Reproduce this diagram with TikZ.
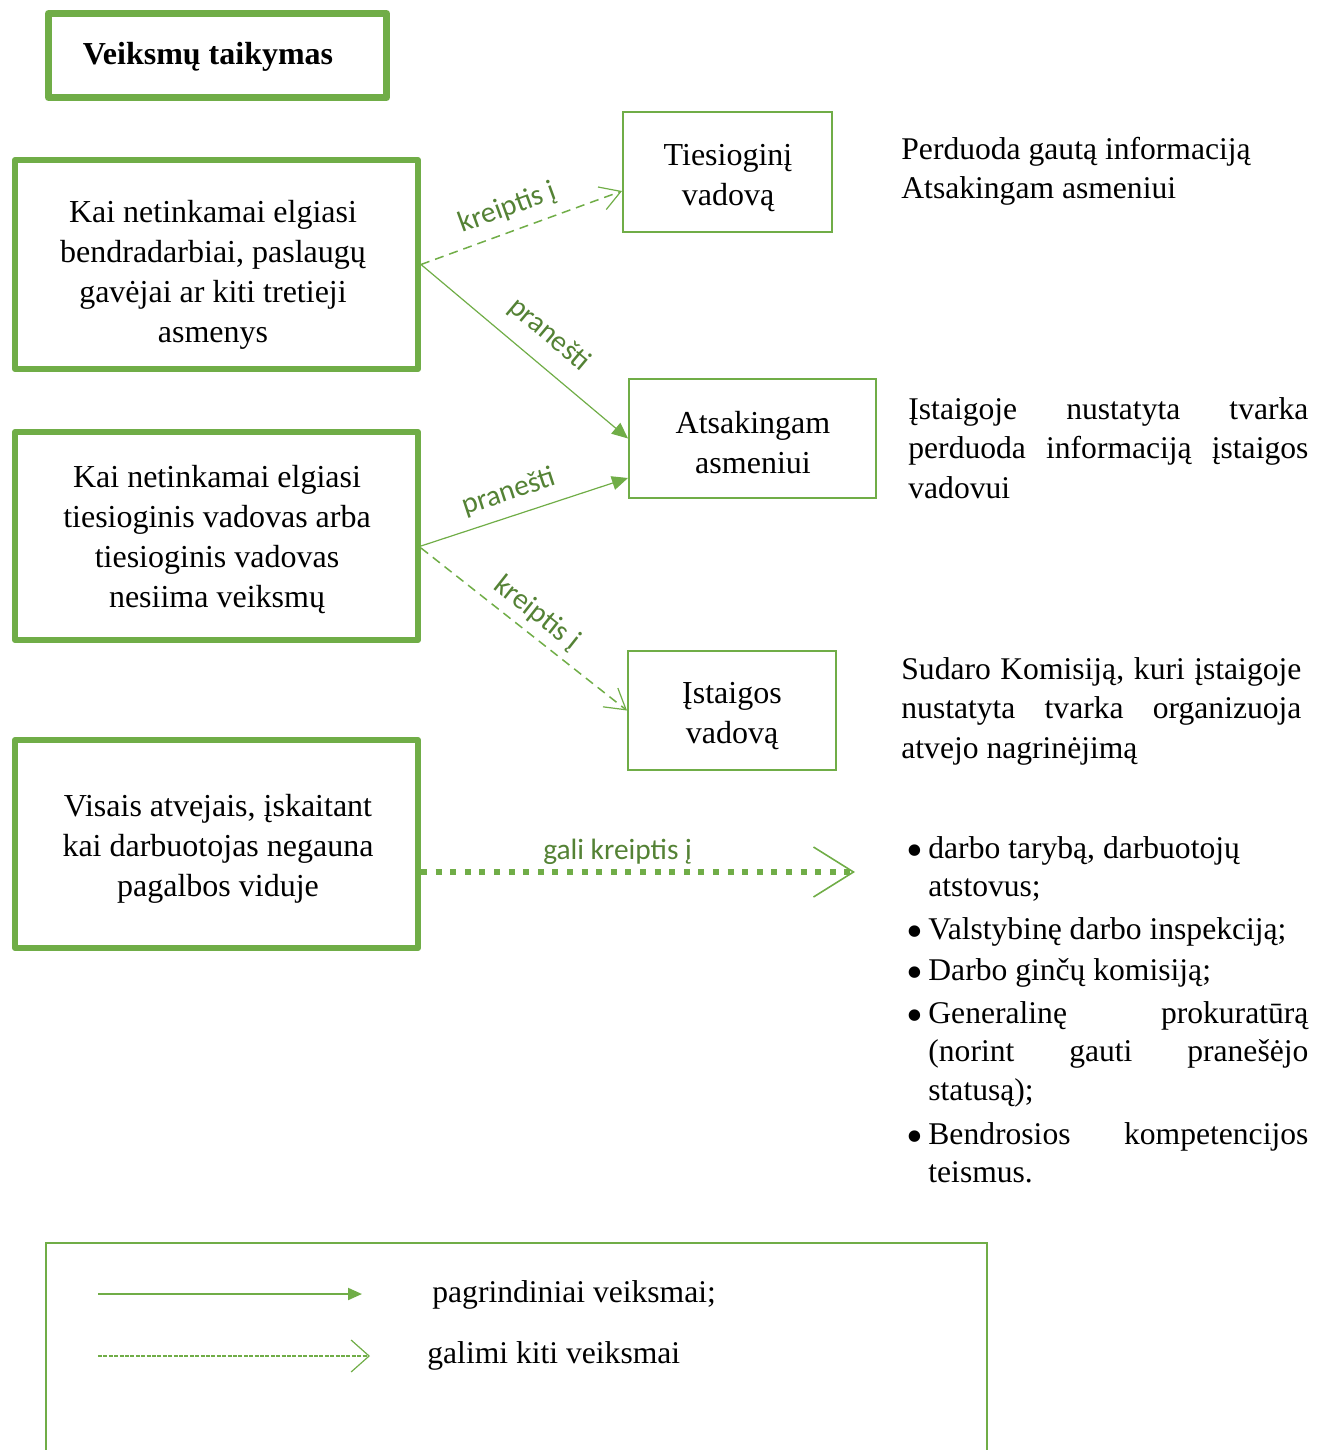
\documentclass[tikz,border=0pt]{standalone}
\usepackage{fontspec}
\setmainfont{Liberation Serif}
\newfontfamily\lblfont{Carlito}
\usetikzlibrary{arrows.meta}
\definecolor{gr}{HTML}{70AD47}
\definecolor{lg}{HTML}{548235}
\setlength\parindent{0pt}
\begin{document}
\begin{tikzpicture}[x=0.5pt,y=-0.5pt,
  bigbox/.style={draw=gr, line width=3pt, line join=round, inner sep=0pt},
  smallbox/.style={draw=gr, line width=1pt, inner sep=0pt},
  boxtext/.style={align=center, inner sep=0pt, font=\fontsize{16}{20}\selectfont},
  plain/.style={inner sep=0pt, anchor=base west, font=\fontsize{15.8}{19.75}\selectfont},
  lbl/.style={font=\lblfont\fontsize{14.7}{17}\selectfont, text=lg, sloped, inner sep=2pt},
  mainarrow/.style={draw=gr, line width=0.6pt, -{Triangle[length=8pt,width=7pt]}},
  otherarrow/.style={draw=gr, line width=0.75pt, dash pattern=on 4.5pt off 3pt,
     -{Straight Barb[length=10pt,width=12pt,line width=0.6pt]}},
  gkarrow/.style={draw=gr, line width=3pt, dash pattern=on 3pt off 4.3pt,
     -{Straight Barb[length=20pt,width=25pt,line width=0.8pt]}}
]
\useasboundingbox (0,0) rectangle (1327,1450);

% title
\node[bigbox, line width=3.5pt, minimum width=169pt, minimum height=42pt] (title) at (217.5,55.5) {};
\node[boxtext, font=\fontsize{16}{20}\selectfont\bfseries] (titlet) at (208,57) {Veiksmų taikymas};

% left boxes
\node[bigbox, minimum width=201.5pt, minimum height=104.5pt] (A) at (216.5,264.5) {};
\node[boxtext] (At) at (213,275)
  {Kai netinkamai elgiasi\\bendradarbiai, paslaugų\\gavėjai ar kiti tretieji\\asmenys};
\node[bigbox, minimum width=201.5pt, minimum height=104pt] (B) at (216.5,536) {};
\node[boxtext] (Bt) at (217,539.5)
  {Kai netinkamai elgiasi\\tiesioginis vadovas arba\\tiesioginis vadovas\\nesiima veiksmų};
\node[bigbox, minimum width=201.5pt, minimum height=104pt] (C) at (216.5,844) {};
\node[boxtext] (Ct) at (218,848.5)
  {Visais atvejais, įskaitant\\kai darbuotojas negauna\\pagalbos viduje};

% middle boxes
\node[smallbox, minimum width=104.5pt, minimum height=60pt] (T) at (727.5,172) {};
\node[boxtext] (Tt) at (728,178) {Tiesioginį\\vadovą};
\node[smallbox, minimum width=123.5pt, minimum height=59.5pt] (S) at (752.5,438.5) {};
\node[boxtext] (St) at (753,443) {Atsakingam\\asmeniui};
\node[smallbox, minimum width=104pt, minimum height=59.5pt] (I) at (732,710.5) {};
\node[boxtext] (It) at (732,716) {Įstaigos\\vadovą};

% right texts
\node[plain] (rt1) at (901,159) {\parbox[t]{200pt}{Perduoda gautą informaciją\\Atsakingam asmeniui}};
\node[plain] (rt2) at (908,419)
  {\parbox[t]{200pt}{Įstaigoje nustatyta tvarka\linebreak perduoda informaciją įstaigos\linebreak vadovui}};
\node[plain] (rt3) at (901,679)
  {\parbox[t]{200pt}{Sudaro Komisiją, kuri įstaigoje\linebreak nustatyta tvarka organizuoja\linebreak atvejo nagrinėjimą}};

% bullet list
\tikzset{item/.style={plain, font=\fontsize{15.8}{19.25}\selectfont},
         dot/.style={inner sep=0pt, anchor=base, font=\fontsize{24}{24}\selectfont}}
\foreach \yy/\nm in {866/d1,947/d2,988/d3,1031/d4,1152/d5}
  \node[dot] (\nm) at (915,\yy) {•};
\node[item] (b1) at (928,858) {\parbox[t]{190pt}{darbo tarybą, darbuotojų\\atstovus;}};
\node[item] (b2) at (928,939) {\parbox[t]{190pt}{Valstybinę darbo inspekciją;}};
\node[item] (b3) at (928,980) {\parbox[t]{190pt}{Darbo ginčų komisiją;}};
\node[item] (b4) at (928,1023) {\parbox[t]{190pt}{Generalinę prokuratūrą\linebreak (norint gauti pranešėjo\linebreak statusą);}};
\node[item] (b5) at (928,1144) {\parbox[t]{190pt}{Bendrosios kompetencijos\linebreak teismus.}};

% connectors
\draw[otherarrow] (A.east) -- ([yshift=-9.5pt]T.west)
  node[lbl, pos=0.47, above=2.9pt] {kreiptis į};
\draw[mainarrow] (A.east) -- (S.west)
  node[lbl, pos=0.53, above=5.8pt] {pranešti};
\draw[mainarrow] ([yshift=-5pt]B.east) -- ([yshift=-19.75pt]S.west)
  node[lbl, pos=0.46, above=3.2pt] {pranešti};
\draw[otherarrow] ([yshift=-6pt]B.east) -- (I.west)
  node[lbl, pos=0.5, above=1.5pt] {kreiptis į};
\coordinate (gkend) at (855,872);
\draw[gkarrow] ([yshift=-14pt]C.east) -- (gkend)
  node[lbl, pos=0.453, above=0.3pt] {gali kreiptis į};

% legend
\draw[draw=gr, line width=1pt] (46,1460) -- (46,1243) -- (987,1243) -- (987,1460);
\coordinate (l1s) at (98,1294);
\coordinate (l1e) at (362,1294);
\coordinate (l2s) at (98,1356);
\coordinate (l2e) at (370,1356);
\draw[draw=gr, line width=1pt, -{Triangle[length=7pt,width=6pt]}] (l1s) -- (l1e);
\draw[draw=gr, line width=0.8pt, dash pattern=on 2pt off 0.7pt,
  -{Straight Barb[length=9pt,width=16pt,line width=0.6pt]}] (l2s) -- (l2e);
\node[plain] (lt1) at (432,1302) {pagrindiniai veiksmai;};
\node[plain] (lt2) at (427,1363) {galimi kiti veiksmai};
\end{tikzpicture}
\end{document}
